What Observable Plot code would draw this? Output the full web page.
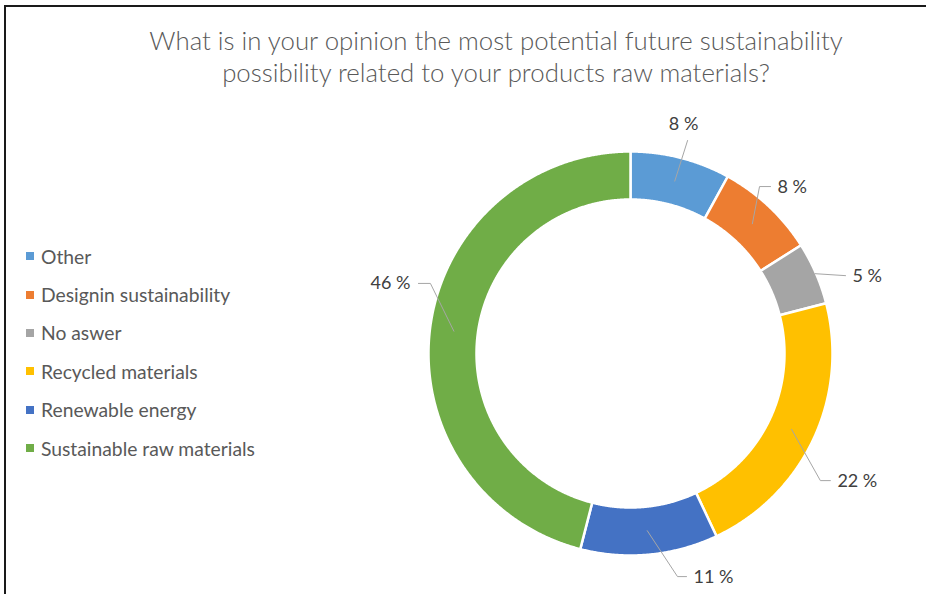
<!DOCTYPE html>
<html><head><meta charset="utf-8">
<script src="https://cdn.jsdelivr.net/npm/d3@7"></script>
<script src="https://cdn.jsdelivr.net/npm/@observablehq/plot@0.6"></script>
<style>
body{margin:0;background:#fff;}
#wrap{position:relative;width:926px;height:594px;overflow:hidden;background:#fff;font-family:Lato,"Open Sans",sans-serif;}
#frame{position:absolute;left:4px;top:5px;width:940px;height:600px;border-top:2px solid #1a1a1a;border-left:2px solid #1a1a1a;box-sizing:border-box;}
#title{position:absolute;left:68px;width:856px;top:24px;text-align:center;color:#595959;font-size:25.8px;font-weight:300;line-height:32px;}
#legend{position:absolute;left:26px;top:237px;}
.row{height:38.4px;display:flex;align-items:center;color:#595959;font-size:19.3px;}
.sw{width:8px;height:8px;margin-right:7px;flex:none;}
#chart{position:absolute;left:0;top:100px;}
</style></head>
<body>
<div id="wrap">
  <div id="frame"></div>
  <div id="title">What is in your opinion the most potential future sustainability<br>possibility related to your products raw materials?</div>
  <div id="legend"></div>
  <div id="chart"></div>
</div>
<script>
// ---- data ----
const categories = ["Other", "Designin sustainability", "No aswer", "Recycled materials", "Renewable energy", "Sustainable raw materials"];
const percents = [8, 8, 5, 22, 11, 46];
const colors = ["#5B9BD5", "#ED7D31", "#A5A5A5", "#FFC000", "#4472C4", "#70AD47"];

// ---- layout (annotation placement, px) ----
const R = 202;               // outer radius
const innerFrac = 154 / 202; // inner radius fraction
const cx = 630, cy = 253;    // donut centre within svg
const leaderStartR = [178, 178, 201, 178, 178, 178];
const leaderElbowDeg = [15.0, 37.7, 70.1, 123.8, 168.1, 289.3];
const leaderElbowR = [220.5, 211, 228.7, 228.5, 228, 212];
const leaderTail = [0, 11, 0, 10, 9, -12];

// ---- build geometry from data ----
const pie = d3.pie().sort(null).value(d => d)(percents);
function ring(a0, a1) {
  const n = Math.max(16, Math.ceil((a1 - a0) / 0.005));
  const pts = [];
  for (let k = 0; k <= n; k++) { const t = a0 + (a1 - a0) * k / n; pts.push([Math.sin(t), Math.cos(t)]); }
  for (let k = n; k >= 0; k--) { const t = a0 + (a1 - a0) * k / n; pts.push([innerFrac * Math.sin(t), innerFrac * Math.cos(t)]); }
  pts.push(pts[0]);
  return pts;
}
const slices = pie.map((p, i) => ({
  type: "Feature",
  properties: {name: categories[i], value: percents[i]},
  geometry: {type: "Polygon", coordinates: [ring(p.startAngle, p.endAngle)]}
}));

const polar = (a, rpx) => [Math.sin(a) * rpx / R, Math.cos(a) * rpx / R];
const leaders = [];
const labels = [];
pie.forEach((p, i) => {
  const mid = (p.startAngle + p.endAngle) / 2;
  const s = polar(mid, leaderStartR[i]);
  const e = polar(leaderElbowDeg[i] * Math.PI / 180, leaderElbowR[i]);
  const t = [e[0] + leaderTail[i] / R, e[1]];
  leaders.push({i, x: s[0], y: s[1]}, {i, x: e[0], y: e[1]});
  if (leaderTail[i] !== 0) leaders.push({i, x: t[0], y: t[1]});
  let anchor, lx, ly;
  if (i === 0) { anchor = "middle"; lx = t[0] - 4 / R; ly = t[1] + 16 / R; }
  else if (leaderTail[i] < 0) { anchor = "end"; lx = t[0] - 8 / R; ly = t[1]; }
  else { anchor = "start"; lx = t[0] + 7 / R; ly = t[1] - 1 / R; }
  labels.push({anchor, x: lx, y: ly, text: `${percents[i]} %`});
});

const textStyle = {fill: "#404040", fontSize: 18, fontFamily: "Lato, 'Open Sans', sans-serif"};
const chart = Plot.plot({
  width: 926,
  height: 494,
  margin: 0,
  projection: d3.geoIdentity().reflectY(true).scale(R).translate([cx, cy]),
  color: {domain: categories, range: colors},
  marks: [
    Plot.geo(slices, {fill: d => d.properties.name, stroke: "white", strokeWidth: 2.5}),
    Plot.line(leaders, {x: "x", y: "y", z: "i", stroke: "#a6a6a6", strokeWidth: 1}),
    ...["middle", "start", "end"].map(a =>
      Plot.text(labels.filter(d => d.anchor === a), {x: "x", y: "y", text: "text", textAnchor: a, ...textStyle}))
  ]
});
document.getElementById("chart").appendChild(chart);

// legend
const leg = document.getElementById("legend");
categories.forEach((c, i) => {
  const row = document.createElement("div");
  row.className = "row";
  row.innerHTML = `<span class="sw" style="background:${colors[i]}"></span><span>${c}</span>`;
  leg.appendChild(row);
});
</script>
</body></html>
